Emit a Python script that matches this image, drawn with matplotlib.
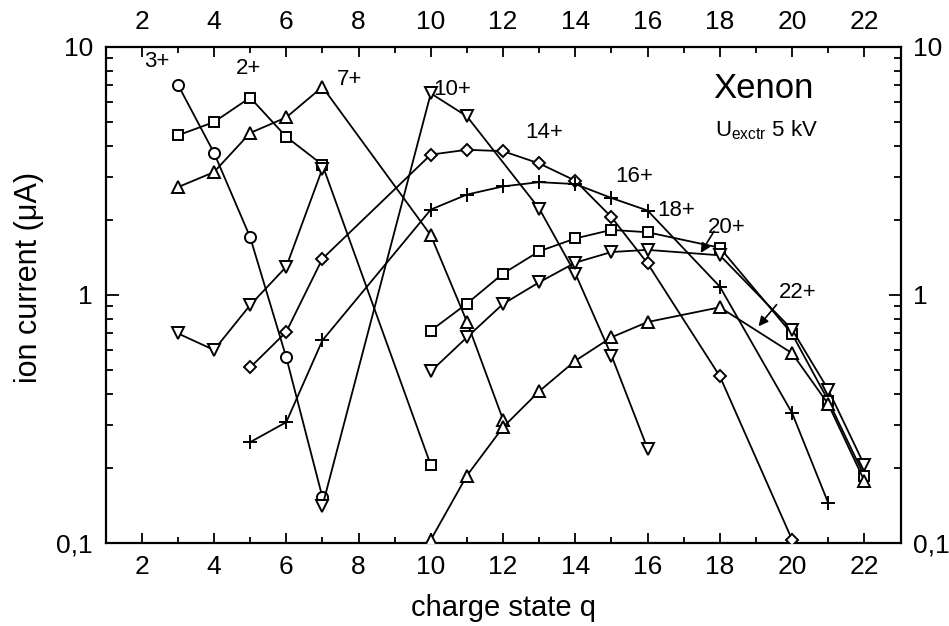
import matplotlib
matplotlib.use("Agg")
import matplotlib.pyplot as plt
from matplotlib.ticker import FixedLocator, FixedFormatter, LogLocator, NullFormatter

plt.rcParams['font.family'] = ['Liberation Sans', 'DejaVu Sans']
plt.rcParams['mathtext.fontset'] = 'custom'
plt.rcParams['mathtext.rm'] = 'Liberation Sans'
plt.rcParams['mathtext.it'] = 'Liberation Sans'

# ---- data (charge state q, ion current in uA) ----
q_3 = [3, 4, 5, 6, 7]
i_3 = [7.05, 3.74, 1.71, 0.56, 0.153]

q_2 = [3, 4, 5, 6, 7, 10]
i_2 = [4.40, 4.98, 6.25, 4.34, 3.35, 0.206]

q_5 = [3, 4, 5, 6, 7]
i_5 = [0.70, 0.60, 0.91, 1.30, 3.23]

q_7 = [3, 4, 5, 6, 7, 10, 11, 12]
i_7 = [2.72, 3.13, 4.50, 5.20, 6.90, 1.74, 0.78, 0.314]

q_10 = [7, 10, 11, 13, 14, 15, 16]
i_10 = [0.141, 6.50, 5.25, 2.23, 1.22, 0.57, 0.24]

q_14 = [5, 6, 7, 10, 11, 12, 13, 14, 15, 16, 18, 20]
i_14 = [0.51, 0.71, 1.40, 3.68, 3.85, 3.80, 3.39, 2.89, 2.06, 1.34, 0.47, 0.103]

q_16 = [5, 6, 7, 10, 11, 12, 13, 14, 15, 16, 18, 20, 21]
i_16 = [0.255, 0.307, 0.656, 2.21, 2.54, 2.74, 2.85, 2.80, 2.46, 2.19, 1.08, 0.334, 0.145]

q_18 = [10, 11, 12, 13, 14, 15, 16, 18, 20, 21, 22]
i_18 = [0.718, 0.923, 1.22, 1.50, 1.69, 1.83, 1.79, 1.55, 0.696, 0.375, 0.186]

q_20 = [10, 11, 12, 13, 14, 15, 16, 18, 20, 21, 22]
i_20 = [0.492, 0.675, 0.92, 1.125, 1.35, 1.49, 1.52, 1.445, 0.725, 0.415, 0.206]

q_22 = [10, 11, 12, 13, 14, 15, 16, 18, 20, 21, 22]
i_22 = [0.103, 0.187, 0.293, 0.409, 0.543, 0.675, 0.778, 0.892, 0.582, 0.363, 0.178]

x_ticks = [2, 4, 6, 8, 10, 12, 14, 16, 18, 20, 22]
y_ticks = [0.1, 1, 10]
y_ticklabels = ['0,1', '1', '10']

curve_labels = ['3+', '2+', '7+', '10+', '14+', '16+', '18+', '20+', '22+']

# ---- figure ----
fig = plt.figure(figsize=(9.49, 6.26), dpi=100)
ax = fig.add_axes([0.1113, 0.1326, 0.8376, 0.7924])

series = [
    (q_3, i_3, 'o', 8),
    (q_2, i_2, 's', 7.5),
    (q_5, i_5, 'v', 9),
    (q_7, i_7, '^', 9),
    (q_10, i_10, 'v', 9),
    (q_14, i_14, 'D', 6.5),
    (q_16, i_16, '+', 10),
    (q_18, i_18, 's', 7.5),
    (q_20, i_20, 'v', 9),
    (q_22, i_22, '^', 9),
]
for qx, iy, m, ms in series:
    ax.plot(qx, iy, color='black', lw=1.3, marker=m, ms=ms,
            mfc='white', mec='black', mew=1.4, zorder=3)

ax.set_yscale('log')
ax.set_xlim(1, 23)
ax.set_ylim(0.1, 10)

ax.xaxis.set_major_locator(FixedLocator(x_ticks))
ax.xaxis.set_minor_locator(FixedLocator([3, 5, 7, 9, 11, 13, 15, 17, 19, 21]))
ax.yaxis.set_major_locator(FixedLocator(y_ticks))
ax.yaxis.set_major_formatter(FixedFormatter(y_ticklabels))
ax.yaxis.set_minor_locator(LogLocator(base=10, subs=[2, 3, 4, 5, 6, 7, 8, 9]))
ax.yaxis.set_minor_formatter(NullFormatter())

ax.tick_params(which='both', direction='in', top=True, right=True,
               labeltop=True, labelright=True, width=1.3, labelsize=19)
ax.tick_params(axis='x', which='major', length=7.5, pad=9)
ax.tick_params(axis='x', which='minor', length=4.5)
ax.tick_params(axis='y', which='major', length=9, pad=9)
ax.tick_params(axis='y', which='minor', length=5)
for s in ax.spines.values():
    s.set_linewidth(1.6)

ax.set_xlabel('charge state q', fontsize=21)
ax.xaxis.set_label_coords(0.5, -0.103)
ax.set_ylabel('ion current (μA)', fontsize=22)
ax.yaxis.set_label_coords(-0.078, 0.536)

# curve labels
lab_pos = [(2.41, 8.76), (4.95, 8.15), (7.76, 7.38), (10.58, 6.73), (13.13, 4.50),
           (15.63, 3.01), (16.80, 2.19), (18.19, 1.876), (20.15, 1.02)]
for txt, (lx, ly) in zip(curve_labels, lab_pos):
    ax.text(lx, ly, txt, fontsize=16, ha='center', va='center', zorder=5)

ax.annotate('', xy=(17.47, 1.477), xytext=(17.84, 1.807),
            arrowprops=dict(arrowstyle='-|>', color='black', lw=1.2,
                            mutation_scale=14, shrinkA=0, shrinkB=0))
ax.annotate('', xy=(19.07, 0.748), xytext=(19.57, 0.914),
            arrowprops=dict(arrowstyle='-|>', color='black', lw=1.2,
                            mutation_scale=14, shrinkA=0, shrinkB=0))

ax.text(19.21, 6.83, 'Xenon', fontsize=25, ha='center', va='center')
ax.text(17.87, 4.34, r'U$_{\mathrm{exctr}}$ 5 kV', fontsize=16, ha='left', va='baseline')

fig.savefig('out.png', dpi=100)
